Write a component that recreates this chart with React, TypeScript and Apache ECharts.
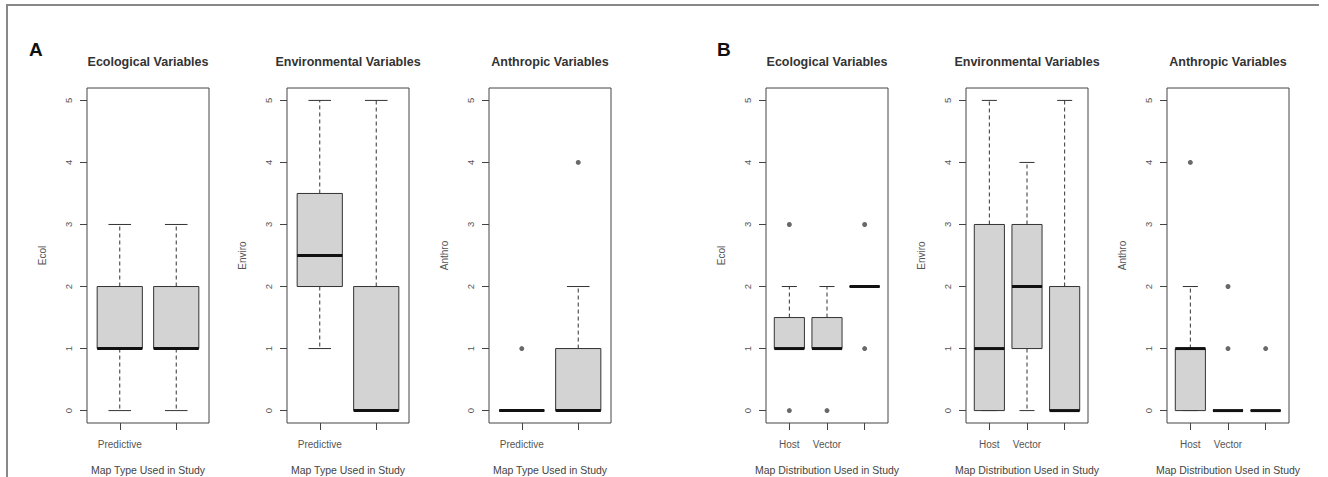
import React, { useEffect, useRef } from 'react';
import * as echarts from 'echarts';

// ---------- data ----------
const yTickValues = [0, 1, 2, 3, 4, 5];

const mapTypeLabels = ['Predictive', ''];
const mapDistributionLabels = ['Host', 'Vector', ''];

// box statistics: [min, q1, median, q3, max]
const ecolByMapType = [
  [0, 1, 1, 2, 3],
  [0, 1, 1, 2, 3],
];
const enviroByMapType = [
  [1, 2, 2.5, 3.5, 5],
  [0, 0, 0, 2, 5],
];
const anthroByMapType = [
  [0, 0, 0, 0, 0],
  [0, 0, 0, 1, 2],
];
const ecolByDistribution = [
  [1, 1, 1, 1.5, 2],
  [1, 1, 1, 1.5, 2],
  [2, 2, 2, 2, 2],
];
const enviroByDistribution = [
  [0, 0, 1, 3, 5],
  [0, 1, 2, 3, 4],
  [0, 0, 0, 2, 5],
];
const anthroByDistribution = [
  [0, 0, 1, 1, 2],
  [0, 0, 0, 0, 0],
  [0, 0, 0, 0, 0],
];

// outliers: [category position (1-based), value]
const ecolByMapTypeOutliers: number[][] = [];
const enviroByMapTypeOutliers: number[][] = [];
const anthroByMapTypeOutliers = [
  [1, 1],
  [2, 4],
];
const ecolByDistributionOutliers = [
  [1, 3],
  [1, 0],
  [2, 0],
  [3, 3],
  [3, 1],
];
const enviroByDistributionOutliers: number[][] = [];
const anthroByDistributionOutliers = [
  [1, 4],
  [2, 2],
  [2, 1],
  [3, 1],
];

const titles = ['Ecological Variables', 'Environmental Variables', 'Anthropic Variables'];
const yNames = ['Ecol', 'Enviro', 'Anthro'];
const xNameA = 'Map Type Used in Study';
const xNameB = 'Map Distribution Used in Study';

// ---------- layout ----------
const PLOT_TOP = 88;
const PLOT_H = 335;
const PLOT_W = 122;
const panelLefts = [87, 287, 489, 766, 966, 1167];

const panels = [
  { title: titles[0], yName: yNames[0], xName: xNameA, cats: mapTypeLabels, stats: ecolByMapType, out: ecolByMapTypeOutliers },
  { title: titles[1], yName: yNames[1], xName: xNameA, cats: mapTypeLabels, stats: enviroByMapType, out: enviroByMapTypeOutliers },
  { title: titles[2], yName: yNames[2], xName: xNameA, cats: mapTypeLabels, stats: anthroByMapType, out: anthroByMapTypeOutliers },
  { title: titles[0], yName: yNames[0], xName: xNameB, cats: mapDistributionLabels, stats: ecolByDistribution, out: ecolByDistributionOutliers },
  { title: titles[1], yName: yNames[1], xName: xNameB, cats: mapDistributionLabels, stats: enviroByDistribution, out: enviroByDistributionOutliers },
  { title: titles[2], yName: yNames[2], xName: xNameB, cats: mapDistributionLabels, stats: anthroByDistribution, out: anthroByDistributionOutliers },
];

const FONT = '"Liberation Sans", Arial, Helvetica, sans-serif';
const LINE = '#333';
const TEXT = '#555';

function renderBox(params: any, api: any) {
  const x = api.value(0);
  const mn = api.value(1);
  const q1 = api.value(2);
  const md = api.value(3);
  const q3 = api.value(4);
  const mx = api.value(5);
  const xc = api.coord([x, md])[0];
  const bw = api.size([0.8, 0])[0];
  const sw = bw / 2;
  const Y = (v: number) => api.coord([x, v])[1];
  const children: any[] = [];
  const dash = { stroke: LINE, lineWidth: 1, lineDash: [4, 3] };
  const solid = { stroke: LINE, lineWidth: 1 };
  if (mx > q3) children.push({ type: 'line', shape: { x1: xc, y1: Y(q3), x2: xc, y2: Y(mx) }, style: dash });
  if (mn < q1) children.push({ type: 'line', shape: { x1: xc, y1: Y(q1), x2: xc, y2: Y(mn) }, style: dash });
  children.push({ type: 'line', shape: { x1: xc - sw / 2, y1: Y(mx), x2: xc + sw / 2, y2: Y(mx) }, style: solid });
  children.push({ type: 'line', shape: { x1: xc - sw / 2, y1: Y(mn), x2: xc + sw / 2, y2: Y(mn) }, style: solid });
  children.push({
    type: 'rect',
    shape: { x: xc - bw / 2, y: Y(q3), width: bw, height: Y(q1) - Y(q3) },
    style: { fill: '#d3d3d3', stroke: LINE, lineWidth: 1 },
  });
  children.push({ type: 'line', shape: { x1: xc - bw / 2, y1: Y(md), x2: xc + bw / 2, y2: Y(md) }, style: { stroke: '#111', lineWidth: 3 } });
  return { type: 'group', children };
}

function buildOption() {
  const grid: any[] = [];
  const xAxis: any[] = [];
  const yAxis: any[] = [];
  const series: any[] = [];
  const graphic: any[] = [];

  panels.forEach((p, i) => {
    const n = p.cats.length;
    const catPositions = p.cats.map((_, j) => j + 1);
    grid.push({
      left: panelLefts[i],
      top: PLOT_TOP,
      width: PLOT_W,
      height: PLOT_H,
      containLabel: false,
      outerBoundsMode: 'none',
      show: true,
      borderColor: '#444',
      borderWidth: 1,
      backgroundColor: 'transparent',
    });
    xAxis.push({
      type: 'value',
      gridIndex: i,
      position: 'bottom',
      min: 0.5 - 0.04 * n,
      max: n + 0.5 + 0.04 * n,
      axisLine: { show: false, onZero: false },
      splitLine: { show: false },
      axisTick: { show: true, length: 7, customValues: catPositions, lineStyle: { color: '#444' } },
      axisLabel: {
        customValues: catPositions,
        formatter: (v: number) => p.cats[Math.round(v) - 1] || '',
        color: TEXT,
        fontFamily: FONT,
        fontSize: 10,
        margin: 16,
      },
      name: p.xName,
      nameLocation: 'middle',
      nameGap: 41,
      nameMoveOverlap: false,
      nameTextStyle: { color: '#444', fontFamily: FONT, fontSize: 10.5 },
    });
    yAxis.push({
      type: 'value',
      gridIndex: i,
      position: 'left',
      min: -0.2,
      max: 5.2,
      axisLine: { show: false, onZero: false },
      splitLine: { show: false },
      axisTick: { show: true, length: 7, customValues: yTickValues, lineStyle: { color: '#444' } },
      axisLabel: {
        customValues: yTickValues,
        rotate: 90,
        color: TEXT,
        fontFamily: FONT,
        fontSize: 9.5,
        margin: 14,
      },
      name: p.yName,
      nameLocation: 'middle',
      nameRotate: 90,
      nameGap: 40,
      nameTextStyle: { color: TEXT, fontFamily: FONT, fontSize: 10 },
    });
    series.push({
      type: 'custom',
      xAxisIndex: i,
      yAxisIndex: i,
      renderItem: renderBox,
      encode: { x: 0, y: [1, 2, 3, 4, 5] },
      data: p.stats.map((s, j) => [j + 1, ...s]),
      silent: true,
    });
    series.push({
      type: 'scatter',
      xAxisIndex: i,
      yAxisIndex: i,
      data: p.out,
      symbol: 'circle',
      symbolSize: 5,
      itemStyle: { color: '#444' },
      silent: true,
    });
    graphic.push({
      type: 'text',
      x: panelLefts[i] + PLOT_W / 2,
      y: 62,
      style: {
        text: p.title,
        fill: '#333',
        font: `bold 12.5px ${FONT}`,
        textAlign: 'center',
        textVerticalAlign: 'middle',
      },
    });
  });

  graphic.push({ type: 'text', x: 29, y: 49, style: { text: 'A', fill: '#111', font: `bold 19px ${FONT}`, textAlign: 'left', textVerticalAlign: 'middle' } });
  graphic.push({ type: 'text', x: 717, y: 49, style: { text: 'B', fill: '#111', font: `bold 19px ${FONT}`, textAlign: 'left', textVerticalAlign: 'middle' } });
  graphic.push({ type: 'line', shape: { x1: 6, y1: 5, x2: 1319, y2: 5 }, style: { stroke: '#888', lineWidth: 2 } });
  graphic.push({ type: 'line', shape: { x1: 7, y1: 4, x2: 7, y2: 477 }, style: { stroke: '#888', lineWidth: 2 } });

  return {
    animation: false,
    backgroundColor: '#fff',
    grid,
    xAxis,
    yAxis,
    series,
    graphic,
  };
}

export default function App() {
  const ref = useRef<HTMLDivElement>(null);
  useEffect(() => {
    if (!ref.current) return;
    const chart = echarts.init(ref.current, undefined, { renderer: 'svg' });
    chart.setOption(buildOption() as any);
    return () => chart.dispose();
  }, []);
  return (
    <div
      ref={ref}
      style={{ position: 'absolute', left: 0, top: 0, width: 1328, height: 477 }}
    />
  );
}
